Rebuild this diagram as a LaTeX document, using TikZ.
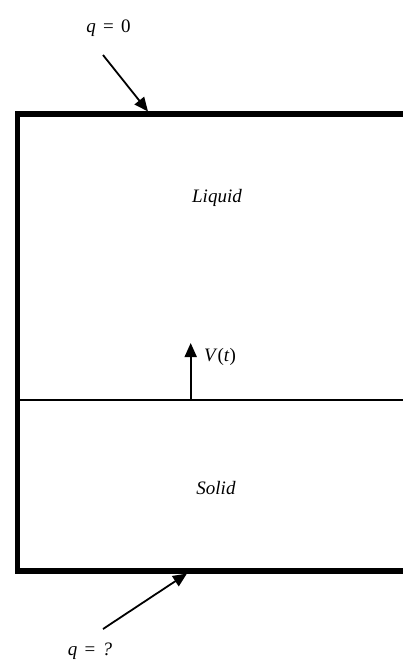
\documentclass[tikz,border=0pt]{standalone}
\usepackage{fontspec}
\setmainfont{Liberation Serif}
\usetikzlibrary{arrows.meta}
\newcommand{\eqsp}{\hspace{0.38em}=\hspace{0.38em}}
\begin{document}
\begin{tikzpicture}[x=1pt,y=-1pt,
  lbl/.style={inner sep=0pt,font=\fontsize{19}{22}\selectfont},
  wall/.style={line width=5.5pt,miter limit=10},
  arr/.style={line width=1.8pt,-{Triangle[length=14pt,width=12pt]}},
  thin/.style={line width=2pt}]
\useasboundingbox (0,0) rectangle (403,666);
% box
\draw[wall] (410,114) -- (17.5,114) -- (17.5,571) -- (410,571);
% interface
\coordinate (ifl) at (20,400);
\coordinate (ifr) at (410,400);
\draw[thin] (ifl) -- (ifr);
% labels
\node[lbl] (liq) at (217,198) {\textit{Liquid}};
\node[lbl] (sol) at (216,488) {\textit{Solid}};
\node[lbl] (qtop) at (108.5,28) {\textit{q}\eqsp 0};
\node[lbl] (qbot) at (90,651) {\textit{q}\eqsp\textit{?}};
\node[lbl,anchor=west] (vt) at (204,357) {\textit{V}(\textit{t})};
% arrows
\coordinate (a1s) at (103,55);
\coordinate (a1e) at (148,111.5);
\draw[arr] (a1s) -- (a1e);
\coordinate (a2s) at (103,629);
\coordinate (a2e) at (187,573.5);
\draw[arr] (a2s) -- (a2e);
\coordinate (vs) at (190.7,400);
\coordinate (ve) at (190.7,343);
\draw[arr] (vs) -- (ve);
\end{tikzpicture}
\end{document}
